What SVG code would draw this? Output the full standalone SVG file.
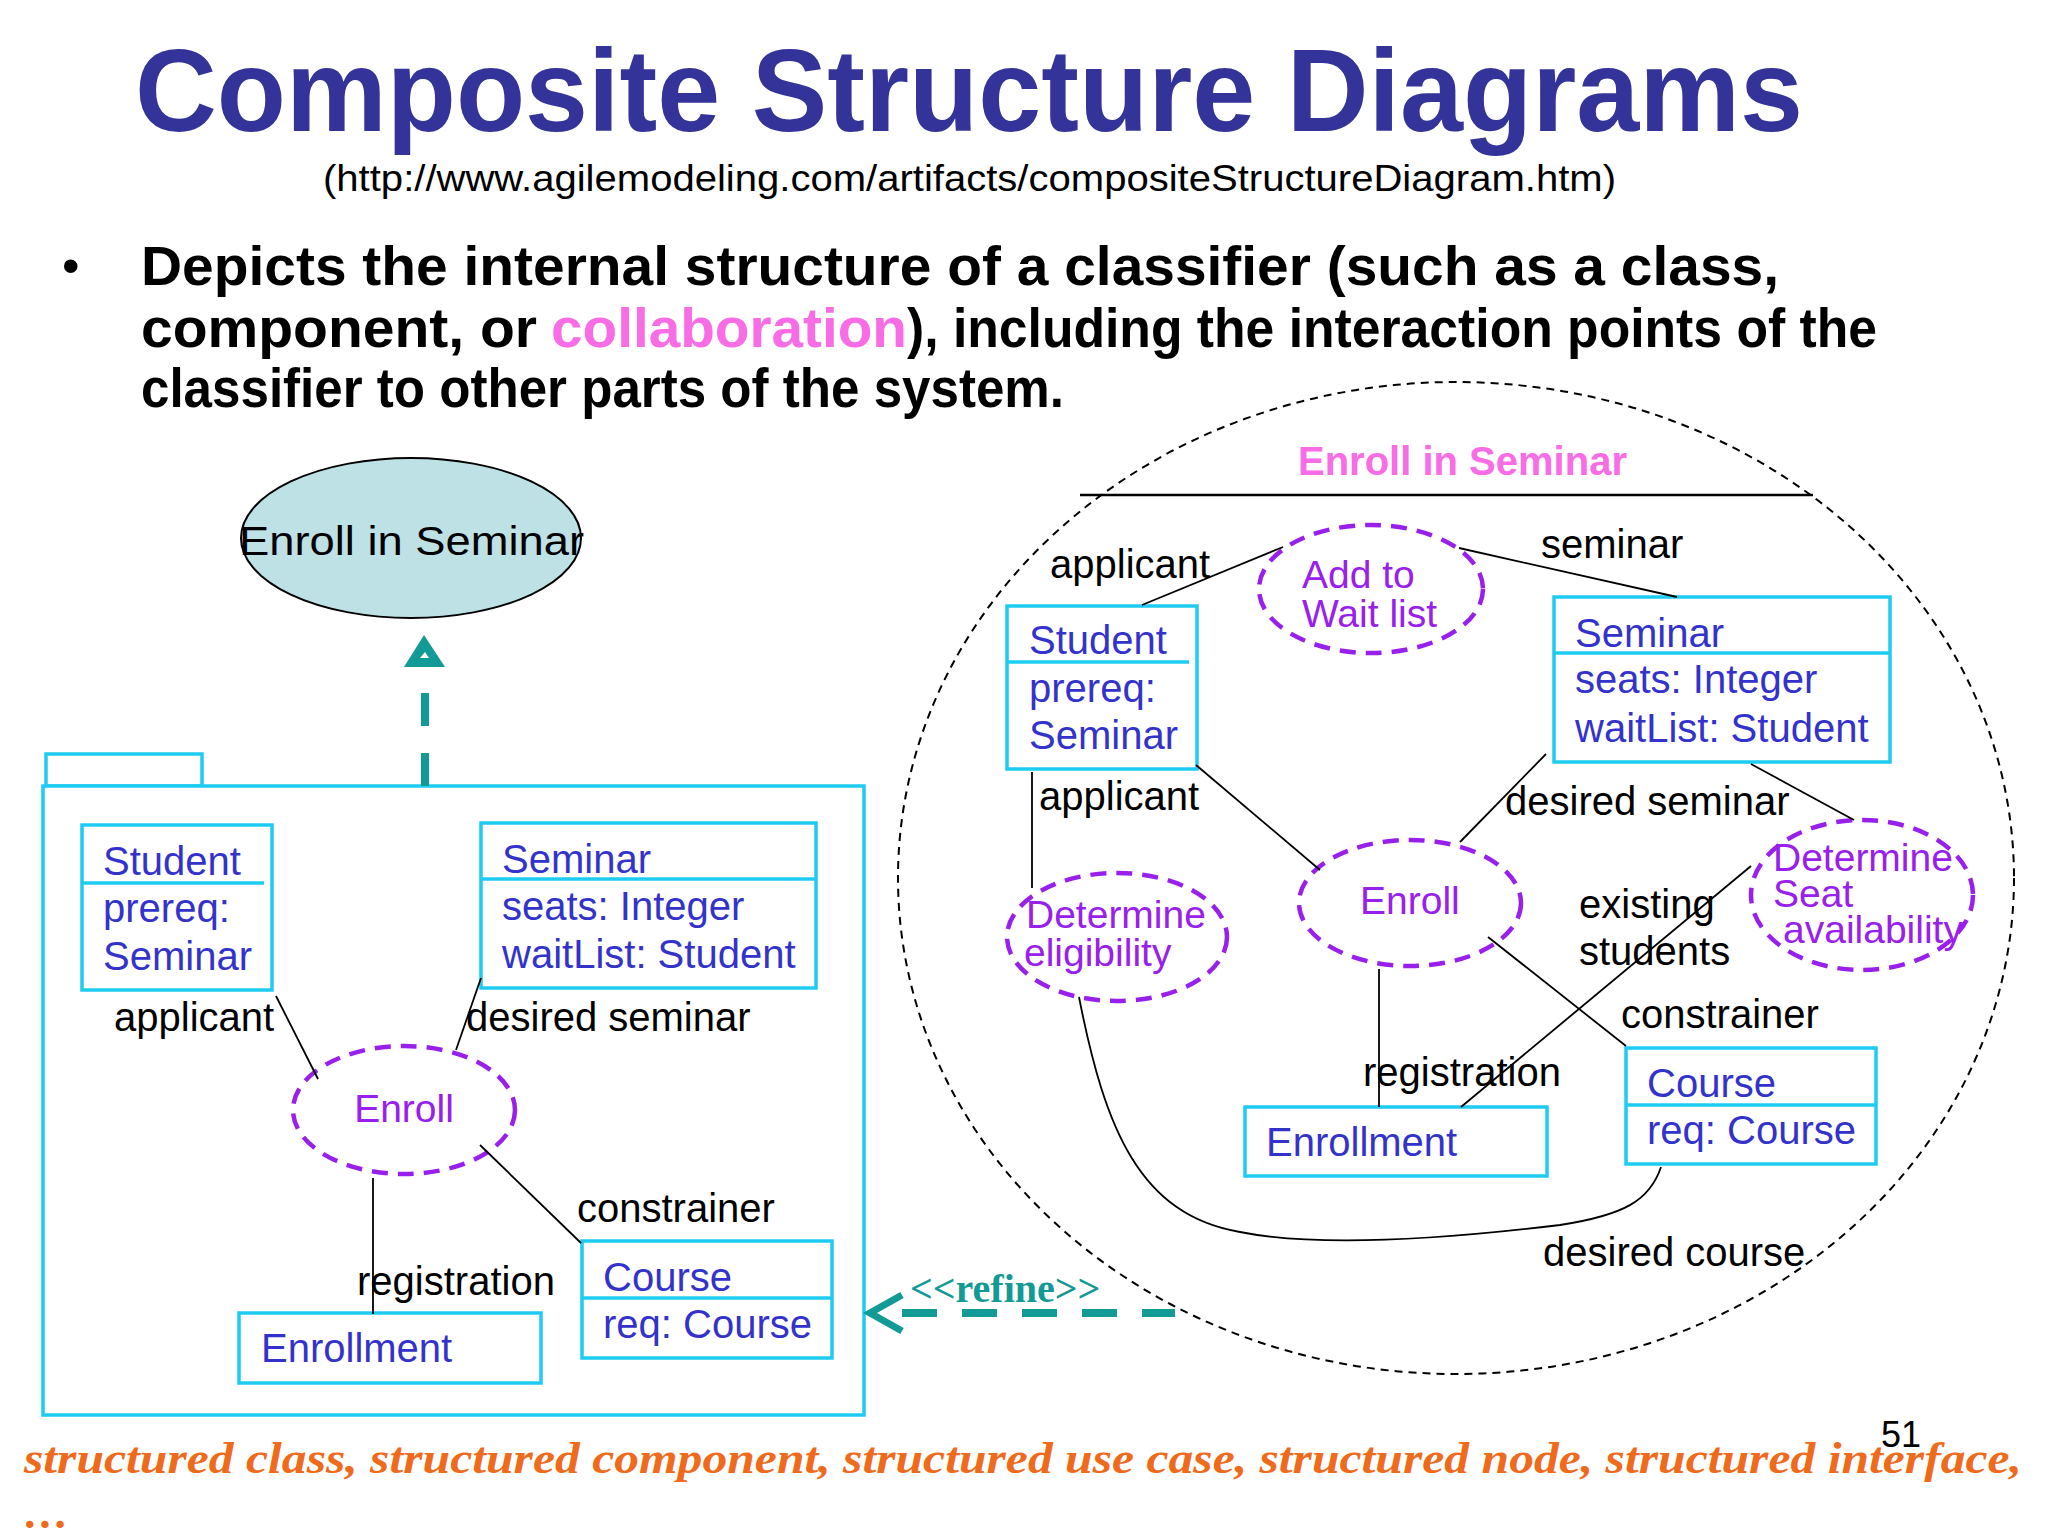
<svg xmlns="http://www.w3.org/2000/svg" width="2048" height="1536" viewBox="0 0 2048 1536">
<style>
.ar{font-family:"Liberation Sans",Arial,sans-serif}
.cls{font-family:"Liberation Sans",Arial,sans-serif;font-size:40px;fill:#3333CC}
.lbl{font-family:"Liberation Sans",Arial,sans-serif;font-size:40px;fill:#000}
.pur{font-family:"Liberation Sans",Arial,sans-serif;font-size:39px;fill:#9920EC}
.box{fill:#fff;stroke:#1ECCF2;stroke-width:3.5}
.div{stroke:#1ECCF2;stroke-width:3.5;fill:none}
.part{fill:none;stroke:#9920EC;stroke-width:4.5;stroke-dasharray:16 10}
.con{stroke:#000;stroke-width:1.8;fill:none}
</style>
<rect width="2048" height="1536" fill="#fff"/>
<text x="969" y="131" text-anchor="middle" class="ar" font-size="116" font-weight="bold" fill="#333399" textLength="1668" lengthAdjust="spacingAndGlyphs">Composite Structure Diagrams</text>
<text x="323" y="191" class="ar" font-size="36" fill="#000" textLength="1293" lengthAdjust="spacingAndGlyphs">(http://www.agilemodeling.com/artifacts/compositeStructureDiagram.htm)</text>
<text x="62" y="283" class="ar" font-size="50" fill="#000">•</text>
<g class="ar" font-size="55" font-weight="bold" fill="#000">
<text x="141" y="285" textLength="1638" lengthAdjust="spacingAndGlyphs">Depicts the internal structure of a classifier (such as a class,</text>
<text x="141" y="347" textLength="396" lengthAdjust="spacingAndGlyphs">component, or</text>
<text x="551" y="347" fill="#F86CE6" textLength="356" lengthAdjust="spacingAndGlyphs">collaboration</text>
<text x="907" y="347" textLength="970" lengthAdjust="spacingAndGlyphs">), including the interaction points of the</text>
<text x="141" y="407" textLength="923" lengthAdjust="spacingAndGlyphs">classifier to other parts of the system.</text>
</g>

<!-- left side -->
<g id="usecase">
<ellipse cx="411" cy="538" rx="170" ry="80" fill="#BDE1E4" stroke="#000" stroke-width="2"/>
<text x="239" y="555" class="lbl" font-size="45" textLength="345" lengthAdjust="spacingAndGlyphs">Enroll in Seminar</text>
</g>
<g id="structured-class">
<rect x="46" y="754" width="156" height="32" class="box"/>
<rect x="43" y="786" width="821" height="629" class="box" fill="none"/>
</g>
<g id="l-student">
<rect x="82" y="825" width="190" height="165" class="box"/>
<line x1="82" y1="883" x2="264" y2="883" class="div"/>
<text x="103" y="875" class="cls">Student</text>
<text x="103" y="922" class="cls">prereq:</text>
<text x="103" y="970" class="cls">Seminar</text>
</g>
<g id="l-seminar">
<rect x="481" y="823" width="335" height="165" class="box"/>
<line x1="481" y1="879" x2="816" y2="879" class="div"/>
<text x="502" y="873" class="cls">Seminar</text>
<text x="502" y="920" class="cls">seats: Integer</text>
<text x="502" y="968" class="cls">waitList: Student</text>
</g>
<g id="l-enroll">
<ellipse cx="404" cy="1110" rx="111" ry="64" class="part"/>
<text x="404" y="1122" text-anchor="middle" class="pur" font-size="40">Enroll</text>
</g>
<g id="l-course">
<rect x="582" y="1241" width="250" height="117" class="box"/>
<line x1="582" y1="1298" x2="832" y2="1298" class="div"/>
<text x="603" y="1291" class="cls">Course</text>
<text x="603" y="1338" class="cls">req: Course</text>
</g>
<g id="l-enrollment">
<rect x="239" y="1313" width="302" height="70" class="box"/>
<text x="261" y="1362" class="cls">Enrollment</text>
</g>

<!-- right side -->
<g id="collaboration">
<ellipse cx="1456" cy="878" rx="558" ry="496" fill="none" stroke="#000" stroke-width="2" stroke-dasharray="8 6"/>
<text x="1298" y="475" class="ar" font-size="40" font-weight="bold" fill="#F86CE6">Enroll in Seminar</text>
<line x1="1080" y1="495" x2="1813" y2="495" stroke="#000" stroke-width="2.5"/>
</g>
<g id="r-student">
<rect x="1007" y="606" width="190" height="163" class="box"/>
<line x1="1007" y1="662" x2="1189" y2="662" class="div"/>
<text x="1029" y="654" class="cls">Student</text>
<text x="1029" y="702" class="cls">prereq:</text>
<text x="1029" y="749" class="cls">Seminar</text>
</g>
<g id="r-seminar">
<rect x="1554" y="597" width="336" height="165" class="box"/>
<line x1="1554" y1="653" x2="1890" y2="653" class="div"/>
<text x="1575" y="647" class="cls">Seminar</text>
<text x="1575" y="693" class="cls">seats: Integer</text>
<text x="1575" y="742" class="cls">waitList: Student</text>
</g>
<g id="r-addwait">
<ellipse cx="1371" cy="589" rx="112" ry="64" class="part"/>
<text x="1302" y="588" class="pur">Add to</text>
<text x="1302" y="627" class="pur">Wait list</text>
</g>
<g id="r-elig">
<ellipse cx="1117" cy="937" rx="110" ry="64" class="part"/>
<text x="1026" y="928" class="pur">Determine</text>
<text x="1024" y="966" class="pur">eligibility</text>
</g>
<g id="r-enroll">
<ellipse cx="1410" cy="903" rx="111" ry="63" class="part"/>
<text x="1360" y="914" class="pur" font-size="40">Enroll</text>
</g>
<g id="r-seat">
<ellipse cx="1862" cy="895" rx="111" ry="75" class="part"/>
<text x="1773" y="871" class="pur" font-size="36">Determine</text>
<text x="1773" y="907" class="pur" font-size="36">Seat</text>
<text x="1783" y="943" class="pur" font-size="36">availability</text>
</g>
<g id="r-course">
<rect x="1626" y="1048" width="250" height="116" class="box"/>
<line x1="1626" y1="1105" x2="1876" y2="1105" class="div"/>
<text x="1647" y="1097" class="cls">Course</text>
<text x="1647" y="1144" class="cls">req: Course</text>
</g>
<g id="r-enrollment">
<rect x="1245" y="1107" width="302" height="69" class="box"/>
<text x="1266" y="1156" class="cls">Enrollment</text>
</g>

<g id="connectors">
<line x1="276" y1="996" x2="318" y2="1079" class="con"/>
<line x1="481" y1="978" x2="456" y2="1050" class="con"/>
<line x1="373" y1="1178" x2="373" y2="1314" class="con"/>
<line x1="480" y1="1145" x2="581" y2="1243" class="con"/>
<line x1="1142" y1="605" x2="1283" y2="547" class="con"/>
<line x1="1459" y1="548" x2="1677" y2="597" class="con"/>
<line x1="1196" y1="765" x2="1320" y2="870" class="con"/>
<line x1="1032" y1="772" x2="1032" y2="888" class="con"/>
<line x1="1546" y1="754" x2="1460" y2="842" class="con"/>
<line x1="1751" y1="764" x2="1854" y2="820" class="con"/>
<line x1="1751" y1="866" x2="1461" y2="1107" class="con"/>
<line x1="1488" y1="937" x2="1626" y2="1046" class="con"/>
<line x1="1379" y1="969" x2="1379" y2="1107" class="con"/>
<path d="M1079,997 C1105,1130 1140,1215 1240,1232 C1310,1246 1420,1242 1560,1225 C1625,1215 1650,1200 1661,1167" class="con"/>
<line x1="425" y1="786" x2="425" y2="667" stroke="#129A96" stroke-width="8" stroke-dasharray="33 27"/>
<path d="M404,667 L424,635 L445,667 Z M420,658 L429,658 L425,652 Z" fill="#129A96" fill-rule="evenodd"/>
<line x1="902" y1="1313" x2="1175" y2="1313" stroke="#129A96" stroke-width="8" stroke-dasharray="35 25"/>
<polyline points="902,1295 870,1313 902,1331" fill="none" stroke="#129A96" stroke-width="7"/>
</g>

<g id="labels" class="lbl">
<text x="114" y="1031">applicant</text>
<text x="466" y="1031">desired seminar</text>
<text x="357" y="1295">registration</text>
<text x="577" y="1222">constrainer</text>
<text x="1050" y="578">applicant</text>
<text x="1541" y="558">seminar</text>
<text x="1039" y="810">applicant</text>
<text x="1505" y="815">desired seminar</text>
<text x="1579" y="918">existing</text>
<text x="1579" y="965">students</text>
<text x="1621" y="1028">constrainer</text>
<text x="1363" y="1086">registration</text>
<text x="1543" y="1266">desired course</text>
</g>
<text x="910" y="1302" font-family="'Liberation Serif','Times New Roman',serif" font-size="40" font-weight="bold" fill="#129A96">&lt;&lt;refine&gt;&gt;</text>
<text x="1881" y="1447" class="ar" font-size="36" fill="#000">51</text>
<g font-family="'Liberation Serif','Times New Roman',serif" font-style="italic" font-weight="bold" font-size="45" fill="#F06A1C">
<text x="24" y="1473" textLength="1998" lengthAdjust="spacingAndGlyphs">structured class, structured component, structured use case, structured node, structured interface,</text>
<text x="24" y="1528">…</text>
</g>
</svg>
